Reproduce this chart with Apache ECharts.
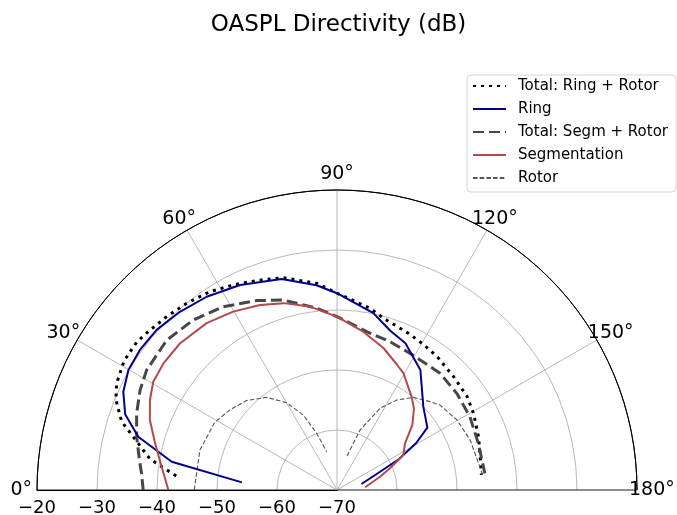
<!DOCTYPE html>
<html><head><meta charset="utf-8">
<script src="https://cdn.jsdelivr.net/npm/echarts@6/dist/echarts.min.js"></script>
<style>html,body{margin:0;padding:0;background:#fff}#c{width:677px;height:515px}</style>
</head><body><div id="c"></div>
<script>
// ---- data (angle in degrees, level in dB) ----
const angleTicks = [0, 30, 60, 90, 120, 150, 180];
const radiusTicks = [-70, -60, -50, -40, -30, -20];

const totalRingAngles = [5, 7.6, 9.4, 13.6, 17.6, 22.2, 25.8, 31.2, 36.5, 40.5, 45.5, 51.2, 57.4, 63.2, 69, 75.8, 84.4, 90, 100.3, 105.2, 114.6, 120.1, 126.9, 135.8, 144.3, 150.7, 159.4, 165.6, 174];
const totalRingValues = [-43.1, -40.5, -38.4, -35.7, -32.35, -30.2, -29.2, -28.5, -28.5, -29, -29.5, -30.05, -30.75, -31.7, -32.6, -33.5, -35.4, -37.2, -39.2, -40.35, -41.3, -41.75, -42.2, -42.9, -43.3, -43.9, -44.8, -45.4, -45.8];

const ringAngles = [4.6, 9.7, 15, 19.7, 24.7, 29.9, 35.4, 41.6, 48.6, 56, 64.7, 75.3, 84.3, 90, 101.6, 108.5, 115, 124.8, 136, 145.4, 149.4, 153.5, 157, 166.3];
const ringValues = [-54.1, -42.05, -35.7, -32.5, -30.8, -29.9, -29.7, -29.8, -30.4, -31.15, -32.2, -33.65, -35.7, -37.2, -39.9, -42.0, -43, -45.65, -50, -51.7, -54.7, -58.5, -62.2, -65.8];

const totalSegmAngles = [0, 4.9, 8.6, 14.9, 20.9, 26.9, 32.2, 41.4, 49.8, 58.2, 67, 74.2, 83.6, 90, 100.6, 109.7, 119, 131.4, 141.1, 151.1, 161.7, 173.6];
const totalSegmValues = [-37.7, -37.3, -36.7, -35.45, -34.25, -33.2, -32.5, -32.2, -32.9, -34.05, -35.7, -37.1, -39.5, -41.1, -43.15, -43.75, -44.2, -44.05, -44.35, -44.7, -45.2, -45.2];

const segmAngles = [0, 7.6, 14.4, 20.5, 25.7, 30.5, 36.1, 43, 52, 59.8, 67.4, 74, 81.6, 90, 99.4, 108.1, 115.4, 119.6, 128.7, 133.3, 139.2, 145.5, 152.2, 157.7, 162.8, 174.5];
const segmValues = [-41.9, -40.5, -38.7, -36.7, -35.4, -34.45, -34.2, -34.2, -34.7, -35.6, -36.6, -37.6, -39.1, -41.1, -43.25, -45.1, -46.8, -47.6, -50.1, -51.3, -53.4, -56.25, -57.5, -60.45, -62.5, -65.3];

const rotorAngles = [0, 16.3, 29, 36.8, 44.7, 52.8, 60, 65.8, 70.3, 74.9, 90, 106.4, 111, 117.8, 123.6, 129.5, 136.5, 140.5, 149.7, 159.4, 174];
const rotorValues = [-46.2, -46.2, -46.7, -47.7, -48.8, -50.6, -53.2, -56.3, -60, -63.4, null, -64.1, -59.3, -54.6, -52, -50, -48.6, -47.75, -46.85, -46.3, -45.6];

function pairs(angles, values) {
  return angles.map((a, i) => values[i] == null ? ['-', a] : [values[i], a]);
}

const FONT = 'DejaVu Sans';
const chart = echarts.init(document.getElementById('c'), null, {renderer: 'canvas'});

const angleRich = {
  a0:   {padding: [0, 35, 0, 0]},
  a30:  {padding: [0, 23, 12, 0]},
  a60:  {padding: [0, 6, 28, 0]},
  a90:  {padding: [0, 0, 36, 0]},
  a120: {padding: [0, 0, 28, 0]},
  a150: {padding: [0, 0, 12, 17]},
  a180: {padding: [0, 0, 0, 22]}
};
Object.keys(angleRich).forEach(k => {
  angleRich[k].fontSize = 19;
  angleRich[k].fontFamily = FONT; angleRich[k].color = '#000';
});

const gridGray = '#b0b0b0';

chart.setOption({
  animation: false,
  backgroundColor: '#fff',
  title: {
    text: 'OASPL Directivity (dB)',
    left: 'center', top: 9,
    textStyle: {fontFamily: FONT, fontSize: 23, fontWeight: 'normal', color: '#000'}
  },
  legend: {
    orient: 'vertical',
    left: 467, top: 75,
    padding: [3, 8, 6, 5],
    itemWidth: 33, itemHeight: 16, itemGap: 7,
    backgroundColor: '#fff',
    borderColor: '#d5d5d5', borderWidth: 1, borderRadius: 4,
    itemStyle: {opacity: 0},
    textStyle: {fontFamily: FONT, fontSize: 15, color: '#000', padding: [0, 0, 0, 7], lineHeight: 16},
    data: ['Total: Ring + Rotor', 'Ring', 'Total: Segm + Rotor', 'Segmentation', 'Rotor']
  },
  polar: {center: [337, 490], radius: 300},
  angleAxis: {
    type: 'value', min: angleTicks[0], max: angleTicks[angleTicks.length - 1], interval: 30,
    startAngle: 180, endAngle: 0, clockwise: true,
    axisLine: {show: true, lineStyle: {color: '#000', width: 1}},
    axisTick: {show: false},
    axisLabel: {
      margin: -30,
      formatter: v => '{a' + v + '|' + v + '°}',
      rich: angleRich
    },
    splitLine: {show: true, lineStyle: {color: ['#000', gridGray, gridGray, gridGray, gridGray, gridGray, '#000'], width: 0.9}}
  },
  radiusAxis: {
    type: 'value', min: radiusTicks[0], max: radiusTicks[radiusTicks.length - 1], interval: 10,
    axisLine: {show: true, lineStyle: {color: '#000', width: 1}},
    axisTick: {show: false},
    axisLabel: {
      margin: 9, fontSize: 18, fontFamily: FONT, color: '#000',
      formatter: v => (v < 0 ? '\u2212' + Math.abs(v) : String(v))
    },
    splitLine: {show: true, lineStyle: {color: [gridGray, gridGray, gridGray, gridGray, gridGray, '#000'], width: 0.9}}
  },
  series: [
    {name: 'Total: Ring + Rotor', type: 'line', coordinateSystem: 'polar', symbol: 'none',
     data: pairs(totalRingAngles, totalRingValues),
     lineStyle: {color: '#000', width: 3, type: [3, 5], cap: 'butt'}, itemStyle: {color: '#000'}, z: 3},
    {name: 'Ring', type: 'line', coordinateSystem: 'polar', symbol: 'none',
     data: pairs(ringAngles, ringValues),
     lineStyle: {color: '#00008b', width: 2}, itemStyle: {color: '#00008b'}, z: 4},
    {name: 'Total: Segm + Rotor', type: 'line', coordinateSystem: 'polar', symbol: 'none',
     data: pairs(totalSegmAngles, totalSegmValues),
     lineStyle: {color: '#474747', width: 3, type: [11, 5], cap: 'butt'}, itemStyle: {color: '#474747'}, z: 3},
    {name: 'Segmentation', type: 'line', coordinateSystem: 'polar', symbol: 'none',
     data: pairs(segmAngles, segmValues),
     lineStyle: {color: '#b44a4a', width: 2}, itemStyle: {color: '#b44a4a'}, z: 4},
    {name: 'Rotor', type: 'line', coordinateSystem: 'polar', symbol: 'none',
     data: pairs(rotorAngles, rotorValues), connectNulls: false,
     lineStyle: {color: '#555', width: 1.1, type: [4.5, 2.2]}, itemStyle: {color: '#555'}, z: 3}
  ]
});
</script></body></html>
